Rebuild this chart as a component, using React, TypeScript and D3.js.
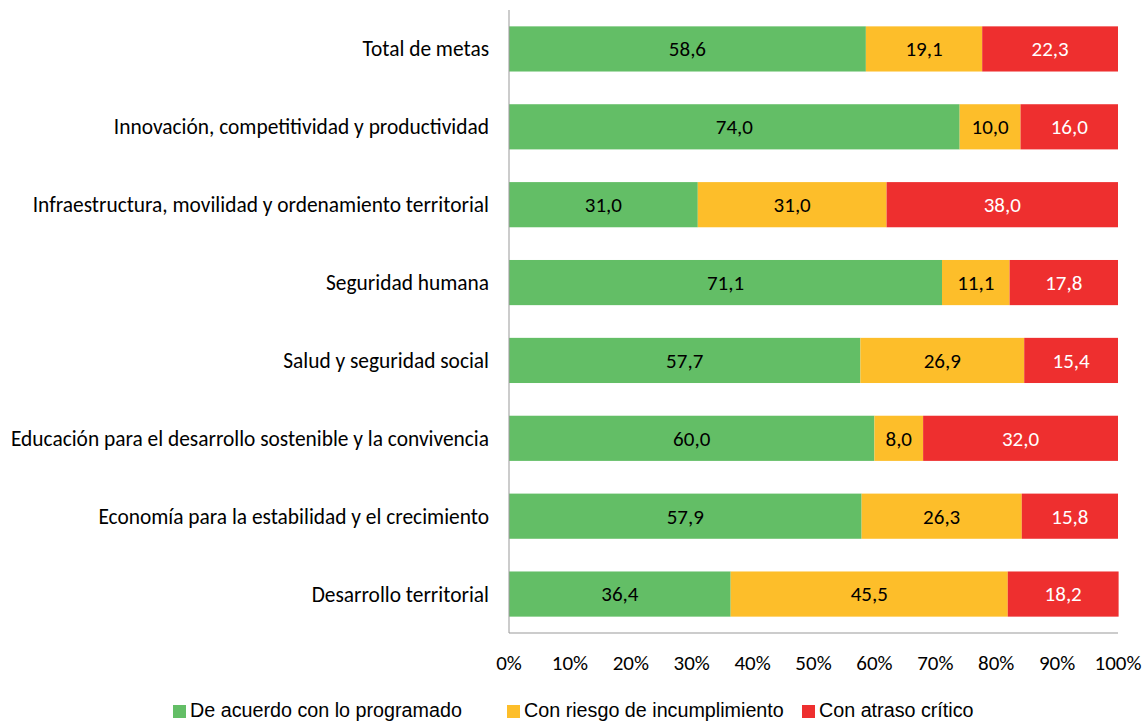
import React from 'react';
import * as d3 from 'd3';

const categories = [
  'Total de metas',
  'Innovación, competitividad y productividad',
  'Infraestructura, movilidad y ordenamiento territorial',
  'Seguridad humana',
  'Salud y seguridad social',
  'Educación para el desarrollo sostenible y la convivencia',
  'Economía para la estabilidad y el crecimiento',
  'Desarrollo territorial',
];

const programado = [58.6, 74.0, 31.0, 71.1, 57.7, 60.0, 57.9, 36.4];
const riesgo = [19.1, 10.0, 31.0, 11.1, 26.9, 8.0, 26.3, 45.5];
const atraso = [22.3, 16.0, 38.0, 17.8, 15.4, 32.0, 15.8, 18.2];

const seriesNames = ['De acuerdo con lo programado', 'Con riesgo de incumplimiento', 'Con atraso crítico'];
const colors = ['#63BE66', '#FDBE2A', '#EE2F2F'];
const labelColors = ['#000', '#000', '#fff'];
const ticks = [0, 10, 20, 30, 40, 50, 60, 70, 80, 90, 100];

const labelFont = 'Calibri, Carlito, Lato, sans-serif';

const App = () => {
  const left = 509;
  const right = 1118;
  const top = 10;
  const bottom = 633;

  const x = d3.scaleLinear().domain([0, 100]).range([left, right]);
  const y = d3.scaleBand().domain(categories).range([top, bottom]).paddingInner(0.42).paddingOuter(0.21);

  const rows = categories.map((c, i) => ({ cat: c, vals: [programado[i], riesgo[i], atraso[i]] }));
  const legendX = [173, 507, 802];

  return (
    <svg width={1146} height={723} style={{ position: 'absolute', left: 0, top: 0 }}>
      {rows.map((r) => {
        let acc = 0;
        return (
          <g key={r.cat}>
            {r.vals.map((v, k) => {
              const x0 = x(acc);
              acc += v;
              const x1 = x(acc);
              return (
                <g key={k}>
                  <rect x={x0} y={y(r.cat)} width={x1 - x0} height={y.bandwidth()} fill={colors[k]} />
                  <text
                    x={(x0 + x1) / 2}
                    y={y(r.cat)! + y.bandwidth() / 2}
                    dy="0.35em"
                    textAnchor="middle"
                    fontFamily={labelFont}
                    fontSize={21}
                    fill={labelColors[k]}
                  >
                    {v.toFixed(1).replace('.', ',')}
                  </text>
                </g>
              );
            })}
            <text
              x={489}
              y={y(r.cat)! + y.bandwidth() / 2}
              dy="0.35em"
              textAnchor="end"
              fontFamily={labelFont}
              fontSize={21.4}
              fill="#000"
            >
              {r.cat}
            </text>
          </g>
        );
      })}
      <line x1={left} x2={left} y1={top} y2={bottom} stroke="#999" strokeWidth={1} />
      <line x1={left} x2={right} y1={bottom} y2={bottom} stroke="#999" strokeWidth={1} />
      {ticks.map((t) => (
        <text key={t} x={x(t)} y={663} dy="0.35em" textAnchor="middle" fontFamily={labelFont} fontSize={21} fill="#000">
          {t}%
        </text>
      ))}
      {seriesNames.map((s, i) => (
        <g key={s}>
          <rect x={legendX[i]} y={705} width={13} height={13} fill={colors[i]} />
          <text
            transform={`translate(${legendX[i] + 17},${710}) scale(0.94,1)`}
            dy="0.35em"
            fontFamily='"Liberation Sans Narrow", "Arial Narrow", "Liberation Sans", sans-serif'
            fontSize={21}
            fill="#000"
          >
            {s}
          </text>
        </g>
      ))}
    </svg>
  );
};

export default App;
